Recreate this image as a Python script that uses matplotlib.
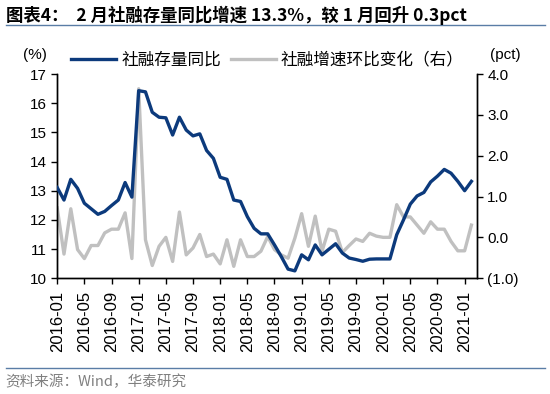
import matplotlib
matplotlib.use("Agg")
import matplotlib.pyplot as plt
from matplotlib.ticker import FuncFormatter

plt.rcParams['font.family'] = ['Liberation Sans', 'Noto Sans CJK SC', 'DejaVu Sans']

# monthly data, 2016-01 .. 2021-02
months = [f"{y}-{m:02d}" for y in range(2016, 2022) for m in range(1, 13)][:62]

tsf_yoy = [13.11, 12.68, 13.39, 13.08, 12.57, 12.38, 12.19, 12.29, 12.49, 12.68, 13.28, 12.78,
           16.43, 16.39, 15.69, 15.52, 15.50, 14.91, 15.52, 15.08, 14.88, 14.95, 14.38, 14.11,
           13.46, 13.39, 12.68, 12.63, 12.11, 11.71, 11.52, 11.52, 11.14, 10.74, 10.31, 10.25,
           10.80, 10.63, 11.14, 10.80, 10.99, 11.18, 10.86, 10.69, 10.64, 10.58, 10.65, 10.66,
           10.66, 10.66, 11.49, 12.00, 12.54, 12.82, 12.94, 13.30, 13.50, 13.73, 13.60, 13.32,
           13.00, 13.32]

tsf_mom = [0.72, -0.41, 0.70, -0.30, -0.52, -0.20, -0.20, 0.11, 0.20, 0.20, 0.60, -0.52,
           3.64, -0.06, -0.69, -0.22, 0.00, -0.59, 0.62, -0.43, -0.26, 0.07, -0.47, -0.41,
           -0.65, -0.06, -0.71, -0.06, -0.47, -0.47, -0.34, 0.02, -0.30, -0.43, -0.51, -0.02,
           0.58, -0.22, 0.52, -0.34, 0.20, 0.15, -0.37, -0.20, -0.04, -0.10, 0.10, 0.03,
           0.00, 0.00, 0.80, 0.50, 0.50, 0.30, 0.10, 0.38, 0.20, 0.20, -0.10, -0.33,
           -0.33, 0.30]

tick_idx = list(range(0, 62, 4))

fig = plt.figure(figsize=(5.5, 3.94), dpi=100)
ax = fig.add_axes([0.104, 0.294, 0.763, 0.518])
ax2 = ax.twinx()

x = list(range(len(months)))
l1, = ax.plot(x, tsf_yoy, color='#0c3a7c', lw=2.4, zorder=3, label='社融存量同比')
l2, = ax2.plot(x, tsf_mom, color='#c0c0c0', lw=2.4, label='社融增速环比变化（右）')
ax.set_zorder(ax2.get_zorder() + 1)
ax.patch.set_visible(False)

ax.set_xlim(0, 61.8)
ax.set_ylim(10, 17)
ax2.set_ylim(-1, 4)
ax.set_yticks(range(10, 18))
ax2.set_yticks(range(-1, 5))
ax2.yaxis.set_major_formatter(FuncFormatter(lambda v, p: f"({abs(v):.1f})" if v < 0 else f"{v:.1f}"))

ax.set_xticks(tick_idx)
ax.set_xticklabels([months[i] for i in tick_idx], rotation=90)

for a in (ax, ax2):
    a.spines['top'].set_visible(False)
    a.tick_params(labelsize=11, direction='out', length=4, width=1, color='black')
    for s in a.spines.values():
        s.set_linewidth(1)
ax.tick_params(axis='x', labelsize=12, pad=5)

fig.text(0.064, 0.860, '(%)', fontsize=11, ha='center', va='center')
fig.text(0.918, 0.860, '(pct)', fontsize=11, ha='center', va='center')
fig.legend(handles=[l1, l2], loc='center left', bbox_to_anchor=(0.102, 0.848), ncol=2,
           frameon=False, handlelength=2.7, handletextpad=0.3, columnspacing=0.6,
           prop={'family': ['Noto Sans CJK SC'], 'size': 12})

fig.text(0.01, 0.962, '图表4：  2 月社融存量同比增速 13.3%，较 1 月回升 0.3pct',
         fontsize=12.5, fontweight='bold', va='center', family=['Noto Sans CJK SC', 'DejaVu Sans'])
fig.add_artist(plt.Line2D([0.01, 0.99], [0.937, 0.937], color='#5a7da6', lw=1))
fig.add_artist(plt.Line2D([0.01, 0.99], [0.066, 0.066], color='#5a7da6', lw=1))
fig.text(0.01, 0.030, '资料来源：Wind，华泰研究', fontsize=10.5, color='#808080', va='center',
         family=['Noto Sans CJK SC', 'DejaVu Sans'])

fig.savefig('out.png', dpi=100)
